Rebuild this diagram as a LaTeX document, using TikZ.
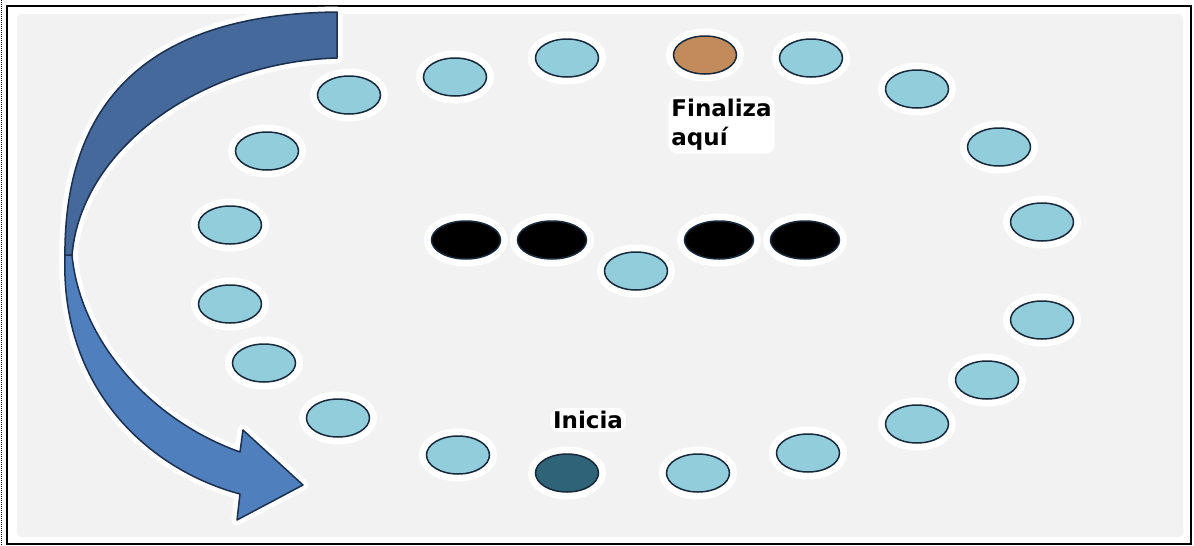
\documentclass[tikz,border=0pt]{standalone}
\usepackage{fontspec}
\setmainfont{DejaVu Sans}
\usetikzlibrary{shapes, positioning, calc}
\definecolor{bgGray}{HTML}{F2F2F2}
\definecolor{dotBlue}{HTML}{92CDDC}
\definecolor{dotLine}{HTML}{17283A}
\definecolor{startTeal}{HTML}{2E6378}
\definecolor{endBrown}{HTML}{C28B5C}
\definecolor{arrowBack}{HTML}{44699A}
\definecolor{arrowFront}{HTML}{4F7FBD}
\definecolor{arrowLine}{HTML}{1B2F4E}
\newcommand{\backPath}{(337,12) .. controls (150,14) and (62,100) .. (65,262) -- (72,256) .. controls (80,150) and (200,62) .. (337,58) -- cycle}
\newcommand{\frontPath}{(65,255) .. controls (60,390) and (150,470) .. (240,494) -- (237,520) -- (303,485) -- (243,430) -- (240,452) .. controls (150,420) and (80,340) .. (72,255) -- cycle}

\begin{document}
\begin{tikzpicture}[x=1pt, y=-1pt, thick,
  dot node/.style={ellipse, draw=dotLine, fill=dotBlue, minimum width=63pt, minimum height=38pt,
    inner sep=0pt, line width=1.5pt, preaction={draw=white, line width=15pt}},
  black node/.style={dot node, fill=black, minimum width=69pt},
  label node/.style={fill=white, rounded corners=9pt, inner sep=3pt,
    font=\fontsize{23}{29}\selectfont\bfseries, align=left}]
  \useasboundingbox (0,0) rectangle (1194,546);
  \draw[densely dotted, line width=1pt] (1.5,0) -- (1.5,546);
  \draw[line width=2pt] (7,6) rectangle (1191,544);
  \fill[bgGray, rounded corners=4pt] (17,14) rectangle (1183,537);

  \draw[white, line width=11pt, line join=round] \backPath;
  \draw[white, line width=11pt, line join=round] \frontPath;
  \draw[fill=arrowBack, draw=arrowLine, line width=1.5pt, line join=round] \backPath;
  \draw[fill=arrowFront, draw=arrowLine, line width=1.5pt, line join=round] \frontPath;

  \node[dot node] (d1) at (567,58) {};
  \node[dot node] (d2) at (455,77) {};
  \node[dot node] (d3) at (349,95) {};
  \node[dot node] (d4) at (267,151) {};
  \node[dot node] (d5) at (230,225) {};
  \node[dot node] (d6) at (230,304) {};
  \node[dot node] (d7) at (264,363) {};
  \node[dot node] (d8) at (338,418) {};
  \node[dot node] (d9) at (458,455) {};
  \node[dot node, fill=startTeal] (start) at (567,473) {};
  \node[dot node] (d10) at (698,473) {};
  \node[dot node] (d11) at (808,453) {};
  \node[dot node] (d12) at (917,424) {};
  \node[dot node] (d13) at (987,380) {};
  \node[dot node] (d14) at (1042,320) {};
  \node[dot node] (d15) at (1042,222) {};
  \node[dot node] (d16) at (999,147) {};
  \node[dot node] (d17) at (917,89) {};
  \node[dot node] (d18) at (811,58) {};
  \node[dot node, fill=endBrown] (end) at (705,55) {};
  \node[dot node] (middle) at (636,271) {};
  \node[black node] (b1) at (466,240) {};
  \node[black node] (b2) at (552,240) {};
  \node[black node] (b3) at (719,240) {};
  \node[black node] (b4) at (805,240) {};

  \node[label node] (start label) at (588,420) {Inicia};
  \node[label node, anchor=north west] (end label) at (668,96) {Finaliza\\aquí};
\end{tikzpicture}
\end{document}
